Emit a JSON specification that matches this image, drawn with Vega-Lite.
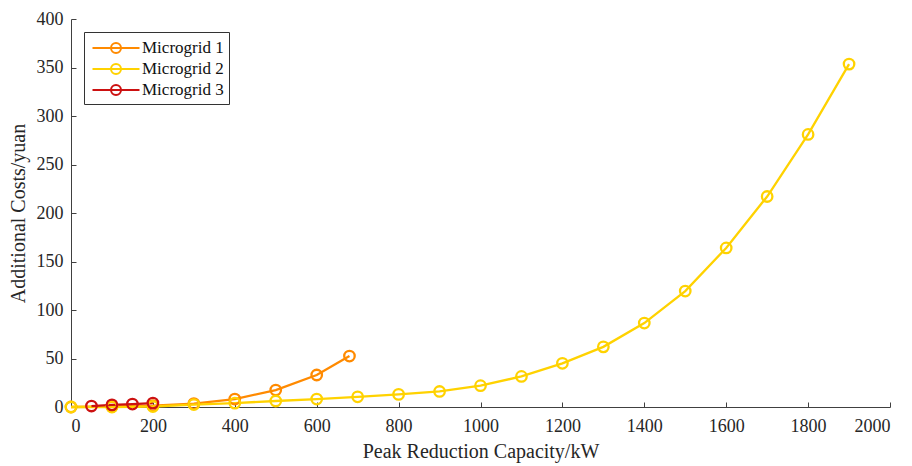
{
  "$schema": "https://vega.github.io/schema/vega-lite/v6.json",
  "width": 819,
  "height": 388,
  "autosize": {"type": "none"},
  "padding": {"left": 71, "top": 19, "right": 22, "bottom": 59},
  "background": "white",
  "config": {
    "view": {"stroke": null},
    "font": "Liberation Serif",
    "axis": {
      "labelFont": "Liberation Serif",
      "titleFont": "Liberation Serif",
      "labelFontSize": 18,
      "titleFontSize": 20,
      "titleFontWeight": "normal",
      "labelColor": "#262626",
      "titleColor": "#262626",
      "domainColor": "#404040",
      "tickColor": "#404040",
      "tickSize": -5,
      "grid": false,
      "format": "d"
    }
  },
  "data": {
    "values": [
      {"x": 0, "y": 0, "g": "Microgrid 1"},
      {"x": 100, "y": 0.5, "g": "Microgrid 1"},
      {"x": 200, "y": 1.5, "g": "Microgrid 1"},
      {"x": 300, "y": 3.5, "g": "Microgrid 1"},
      {"x": 400, "y": 8.2, "g": "Microgrid 1"},
      {"x": 500, "y": 17.5, "g": "Microgrid 1"},
      {"x": 600, "y": 33, "g": "Microgrid 1"},
      {"x": 680, "y": 52.5, "g": "Microgrid 1"},
      {"x": 0, "y": 0, "g": "Microgrid 2"},
      {"x": 100, "y": 0, "g": "Microgrid 2"},
      {"x": 200, "y": 0.5, "g": "Microgrid 2"},
      {"x": 300, "y": 2.5, "g": "Microgrid 2"},
      {"x": 400, "y": 4, "g": "Microgrid 2"},
      {"x": 500, "y": 6.2, "g": "Microgrid 2"},
      {"x": 600, "y": 8.2, "g": "Microgrid 2"},
      {"x": 700, "y": 10.5, "g": "Microgrid 2"},
      {"x": 800, "y": 13, "g": "Microgrid 2"},
      {"x": 900, "y": 16, "g": "Microgrid 2"},
      {"x": 1000, "y": 22, "g": "Microgrid 2"},
      {"x": 1100, "y": 31.5, "g": "Microgrid 2"},
      {"x": 1200, "y": 45, "g": "Microgrid 2"},
      {"x": 1300, "y": 62, "g": "Microgrid 2"},
      {"x": 1400, "y": 86.5, "g": "Microgrid 2"},
      {"x": 1500, "y": 119.5, "g": "Microgrid 2"},
      {"x": 1600, "y": 164, "g": "Microgrid 2"},
      {"x": 1700, "y": 217, "g": "Microgrid 2"},
      {"x": 1800, "y": 281, "g": "Microgrid 2"},
      {"x": 1900, "y": 353.5, "g": "Microgrid 2"},
      {"x": 50, "y": 1, "g": "Microgrid 3"},
      {"x": 100, "y": 2.2, "g": "Microgrid 3"},
      {"x": 150, "y": 3, "g": "Microgrid 3"},
      {"x": 200, "y": 4, "g": "Microgrid 3"}
    ]
  },
  "encoding": {
    "x": {
      "field": "x", "type": "quantitative",
      "scale": {"domain": [0, 2000], "nice": false},
      "axis": {"values": [0,200,400,600,800,1000,1200,1400,1600,1800,2000], "title": "Peak Reduction Capacity/kW", "titlePadding": 6, "labelPadding": 15}
    },
    "y": {
      "field": "y", "type": "quantitative",
      "scale": {"domain": [0, 400], "nice": false},
      "axis": {"values": [0,50,100,150,200,250,300,350,400], "title": "Additional Costs/yuan", "titlePadding": 8, "labelPadding": 13}
    },
    "color": {
      "field": "g", "type": "nominal",
      "scale": {"domain": ["Microgrid 1", "Microgrid 2", "Microgrid 3"], "range": ["#FF8A00", "#FFD200", "#CC1111"]},
      "legend": {
        "title": null,
        "orient": "top-left",
        "offset": 13,
        "fillColor": "white",
        "strokeColor": "#333333",
        "padding": 5,
        "labelFont": "Liberation Serif",
        "labelFontSize": 17,
        "labelColor": "#111111",
        "symbolType": "M-2.35,0L2.35,0M0.5,0A0.5,0.5 0 1,1 -0.5,0A0.5,0.5 0 1,1 0.5,0",
        "symbolSize": 400,
        "symbolStrokeWidth": 2,
        "symbolFillColor": "transparent",
        "symbolOffset": 16,
        "rowPadding": 1,
        "labelOffset": 15
      }
    }
  },
  "layer": [
    {"mark": {"type": "line", "strokeWidth": 2.3}},
    {"mark": {"type": "point", "shape": "circle", "filled": false, "size": 110, "strokeWidth": 2.3, "opacity": 1}}
  ]
}
